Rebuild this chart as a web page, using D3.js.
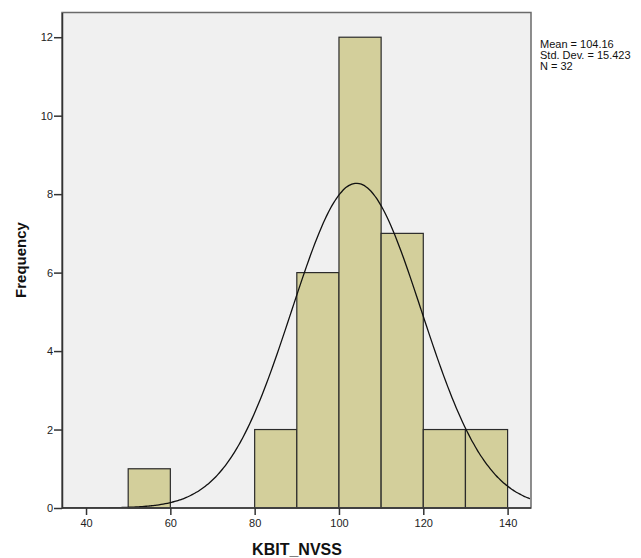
<!DOCTYPE html>
<html>
<head>
<meta charset="utf-8">
<script src="https://cdn.jsdelivr.net/npm/d3@7"></script>
<style>
  body { margin: 0; background: #fff; }
  text { font-family: Arial, "Liberation Sans", sans-serif; }
</style>
</head>
<body>
<svg id="hist" width="641" height="558"></svg>
<script>
// bins (lower edge), width 10
const binStarts = [50, 80, 90, 100, 110, 120, 130];
const counts = [1, 2, 6, 12, 7, 2, 2];
const binWidth = 10;
const xTicks = [40, 60, 80, 100, 120, 140];
const yTicks = [0, 2, 4, 6, 8, 10, 12];
const mean = 104.16, sd = 15.423, n = 32;

let margin = {top: 12.5, right: 110, bottom: 50, left: 62};
let width = 531 - margin.left;
let height = 508 - margin.top;

let svg = d3.select("#hist")
  .append("g")
  .attr("transform", `translate(${margin.left}, ${margin.top})`);

let x = d3.scaleLinear().domain([34.3, 145.55]).range([0, width]);
let y = d3.scaleLinear().domain([0, 12.63]).range([height, 0]);

// plot background
svg.append("rect")
  .attr("width", width)
  .attr("height", height)
  .attr("fill", "#f0f0f0");

svg.append("defs").append("clipPath").attr("id", "clip")
  .append("rect").attr("width", width).attr("height", height);

svg.selectAll(".bar")
  .data(binStarts.map((b, i) => ({x0: b, count: counts[i]})))
  .join("rect")
  .attr("class", "bar")
  .attr("x", d => x(d.x0))
  .attr("y", d => y(d.count))
  .attr("width", d => x(d.x0 + binWidth) - x(d.x0))
  .attr("height", d => y(0) - y(d.count))
  .attr("fill", "#d3cf9b")
  .attr("stroke", "#2b2b2b")
  .attr("stroke-width", 1.2);

// normal curve from the fitted mean / sd
let scale = n * binWidth / (sd * Math.sqrt(2 * Math.PI));
let curvePts = d3.range(34.3, 145.6, 0.5)
  .map(v => [v, scale * Math.exp(-0.5 * ((v - mean) / sd) ** 2)]);

svg.append("path")
  .datum(curvePts)
  .attr("clip-path", "url(#clip)")
  .attr("fill", "none")
  .attr("stroke", "#111")
  .attr("stroke-width", 1.3)
  .attr("d", d3.line().x(d => x(d[0])).y(d => y(d[1])).curve(d3.curveBasis));

// frame
svg.append("rect")
  .attr("width", width)
  .attr("height", height)
  .attr("fill", "none")
  .attr("stroke", "#6a6a6a")
  .attr("stroke-width", 1.5);

let xAxis = svg.append("g")
  .attr("transform", `translate(0,${height})`)
  .call(d3.axisBottom(x).tickValues(xTicks).tickSize(7).tickSizeOuter(0));

let yAxis = svg.append("g")
  .call(d3.axisLeft(y).tickValues(yTicks).tickSize(8).tickSizeOuter(0));

[xAxis, yAxis].forEach(a => {
  a.select(".domain").attr("stroke", "#333").attr("stroke-width", 1.5);
  a.selectAll(".tick line").attr("stroke", "#333").attr("stroke-width", 1.5);
  a.selectAll(".tick text")
    .attr("font-size", 11)
    .attr("fill", "#222")
    .style("font-family", "Arial, 'Liberation Sans', sans-serif");
});
xAxis.selectAll(".tick text").attr("dy", "0.95em").attr("y", 9);
yAxis.selectAll(".tick text").attr("x", -9);
xAxis.select(".domain").attr("d", `M0,0H${width}`);

// axis titles
d3.select("#hist").append("text")
  .attr("x", 297)
  .attr("y", 555)
  .attr("text-anchor", "middle")
  .attr("font-size", 16)
  .attr("font-weight", "bold")
  .attr("fill", "#111")
  .text("KBIT_NVSS");

d3.select("#hist").append("text")
  .attr("transform", "translate(26, 260) rotate(-90)")
  .attr("text-anchor", "middle")
  .attr("font-size", 15)
  .attr("font-weight", "bold")
  .attr("fill", "#111")
  .text("Frequency");

// stats legend
let stats = [`Mean = ${mean}`, `Std. Dev. = ${sd}`, `N = ${n}`];
d3.select("#hist").selectAll(".stat")
  .data(stats)
  .join("text")
  .attr("class", "stat")
  .attr("x", 540)
  .attr("y", (d, i) => 48 + i * 11)
  .attr("font-size", 11)
  .attr("fill", "#111")
  .text(d => d);
</script>
</body>
</html>
